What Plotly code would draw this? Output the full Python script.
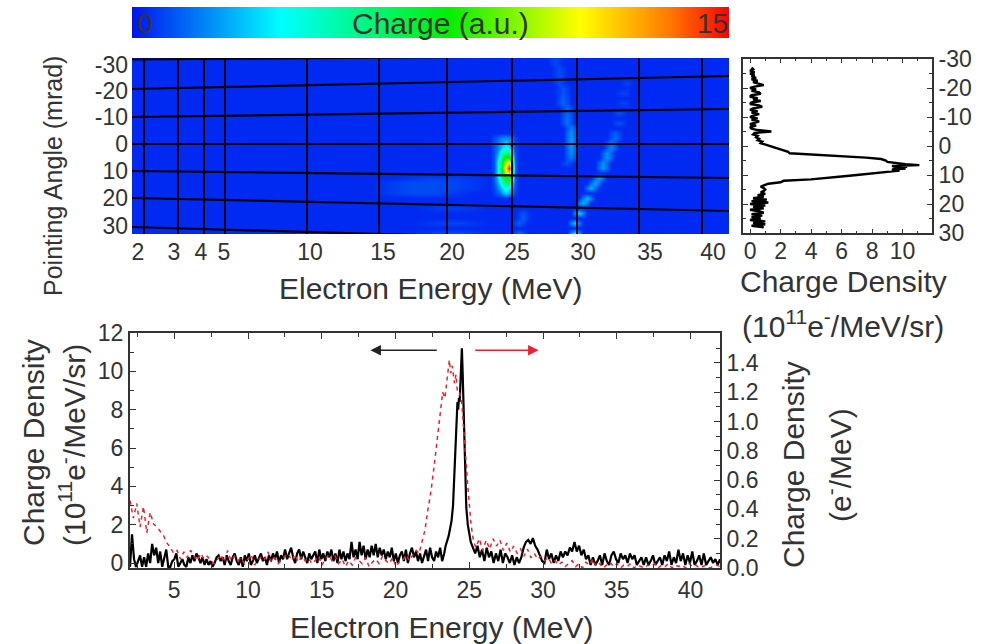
import bisect
import numpy as np
import plotly.graph_objects as go

W, H = 990, 644

# ---------- colour bar ----------
bar_values = list(range(0, 16))
CS = [[0, "#0014f0"], [0.25, "#00ffff"], [0.53, "#00f000"], [0.75, "#ffff00"], [0.9, "#ff7a00"], [1, "#ff0000"]]

# ---------- detector image (detector coordinates, energy axis is nonlinear) ----------
grid_energy_pos = [12, 46, 72, 93, 175, 247, 315, 380, 445, 507, 570]
energy_label_pos = [6, 42, 69, 92, 178, 251, 320, 385, 451, 518, 581]
energy_labels = ["2", "3", "4", "5", "10", "15", "20", "25", "30", "35", "40"]
angle_label_pos = [7, 33, 59, 86, 113, 140, 168]
angle_labels = ["-30", "-20", "-10", "0", "10", "20", "30"]
grid_h_left = [1.5, 31, 59, 86, 113, 140, 169]
grid_h_right = [-3, 18, 51, 86, 120, 153, 186]

img_cols = [0, 60, 120, 180, 240, 260, 280, 300, 320, 340, 358, 362, 365, 368, 371, 374, 377, 380, 383,
            387, 391, 395, 399, 403, 407, 411, 415, 419, 423, 427, 431, 435, 439, 443, 447, 451, 455, 459,
            463, 467, 471, 475, 479, 483, 487, 491, 495, 499, 503, 510, 560, 597]
img_rows = list(range(0, 185, 5))
background_charge = 0.35

peak_cols = [362, 365, 368, 371, 374, 377, 380, 383]
peak_rows = [80, 85, 90, 95, 100, 105, 110, 115, 120, 125, 130, 135]
peak_charge = [
    [0.9, 1.2, 1.6, 2.0, 2.0, 1.8, 1.4, 0.7],
    [0.9, 1.5, 2.0, 2.5, 3.0, 2.4, 1.8, 0.7],
    [1.0, 1.5, 2.5, 3.5, 4.0, 3.4, 2.4, 0.8],
    [1.0, 2.0, 3.5, 5.5, 6.0, 5.5, 3.5, 0.9],
    [1.0, 2.4, 4.5, 7.5, 8.5, 8.5, 5.5, 1.0],
    [1.0, 3.0, 5.5, 8.5, 10.5, 12.0, 8.0, 1.0],
    [1.0, 3.0, 5.5, 9.0, 12.0, 15.0, 9.0, 1.0],
    [1.0, 3.0, 5.5, 8.5, 10.5, 12.0, 7.5, 1.0],
    [1.0, 2.5, 4.5, 6.5, 7.5, 7.5, 5.0, 1.0],
    [1.0, 2.0, 3.5, 5.5, 6.5, 5.5, 3.5, 1.0],
    [0.8, 1.5, 2.5, 3.5, 4.5, 3.5, 2.4, 0.8],
    [0.7, 1.0, 1.5, 2.5, 3.0, 2.5, 1.5, 0.7],
]

arc_x = [423, 423, 427, 427, 427, 427, 431, 431, 431, 431, 435, 435, 435, 435, 439, 439, 439, 439, 439, 439, 439, 435,
         495, 491, 491, 487, 487, 483, 483, 479, 479, 475, 475, 471, 471, 467, 463, 459, 455, 451, 447, 443, 443,
         391, 391, 387, 387,
         264, 280, 300, 264, 280, 300, 320, 320, 320, 264, 280, 300, 320, 320, 300, 320]
arc_y = [0, 5, 10, 15, 20, 25, 30, 35, 40, 45, 50, 55, 60, 65, 70, 75, 80, 85, 90, 95, 100, 105,
         25, 35, 45, 55, 65, 75, 80, 85, 90, 95, 100, 105, 110, 120, 125, 130, 140, 145, 155, 165, 175,
         155, 160, 165, 175,
         125, 125, 125, 135, 135, 135, 120, 165, 175, 130, 130, 130, 125, 130, 120, 150]
arc_charge = [0.8, 0.8, 0.8, 0.9, 0.8, 0.9, 1.0, 1.0, 1.2, 1.3, 1.3, 1.3, 1.5, 1.5, 1.7, 2.0, 2.1, 2.1, 2.1, 1.9, 1.5, 1.0,
              0.7, 0.8, 0.8, 0.9, 1.0, 1.2, 1.4, 1.6, 1.8, 2.0, 2.0, 2.0, 2.2, 2.3, 2.3, 2.5, 2.7, 2.7, 3.1, 2.9, 3.3,
              1.0, 1.1, 1.2, 1.4,
              0.7, 0.9, 0.9, 0.7, 0.9, 0.9, 0.7, 0.8, 0.9, 0.8, 0.9, 0.9, 0.8, 0.8, 0.7, 0.7]

# ---------- side profile ----------
side_angle = [-27, -26.5, -26, -25.5, -25, -24.5, -24, -23.5, -23, -22.5, -22, -21.5, -21, -20.5, -20, -19.5, -19,
              -18.5, -18, -17.5, -17, -16.5, -16, -15.5, -15, -14.5, -14, -13.5, -13, -12.5, -12, -11.5, -11, -10.5,
              -10, -9.5, -9, -8.5, -8, -7.5, -7, -6.5, -6, -5.5, -5, -4.5, -4, -3.5, -3, -2.5, -2, -1.5, -1, -0.5,
              0, 0.5, 1, 1.5, 2, 2.5, 3, 3.5, 4, 4.5, 5, 5.5, 6, 6.3, 6.6, 6.9, 7.2, 7.5, 7.8, 8.1, 8.5, 9, 9.5, 10,
              10.5, 11, 11.5, 12, 12.5, 13, 13.5, 14, 14.5, 15, 15.5, 16, 16.5, 17, 17.5, 18, 18.5, 19, 19.5, 20,
              20.5, 21, 21.5, 22, 22.5, 23, 23.5, 24, 24.5, 25, 25.5, 26, 26.5, 27, 27.5, 28]
side_density = [0.1, 0.2, 0.0, 0.3, 0.0, 0.3, 0.1, 0.4, 0.1, 0.5, 0.2, 0.6, 0.9, 0.3, 0.0, 0.4, 0.1, 0.6, 0.7, 0.1,
                0.0, 0.5, 0.2, 0.7, 0.1, 0.0, 0.6, 0.8, 0.2, 0.0, 0.5, 0.1, 0.6, 0.2, 0.0, 0.5, 0.1, 0.6, 0.2, 0.0,
                0.4, 0.0, 0.1, 0.5, 1.4, 0.3, 0.2, 0.5, 0.4, 0.6, 0.5, 0.8, 0.7, 1.0, 1.2, 1.6, 1.9, 2.2, 2.5, 2.6,
                4.5, 6.2, 7.6, 8.6, 8.9, 9.0, 9.8, 10.2, 11.1, 9.3, 10.3, 9.4, 10.2, 9.3, 9.8, 9.0, 8.0, 7.0, 6.0,
                5.0, 4.0, 2.2, 2.0, 1.2, 1.0, 0.7, 0.9, 1.0, 0.9, 0.7, 1.0, 0.5, 0.9, 0.2, 1.1, 0.1, 1.2, 0.0, 1.0,
                0.2, 0.9, 0.0, 0.6, 0.9, 0.1, 0.8, 0.1, 0.7, 0.0, 1.0, 0.2, 1.0, 0.1, 0.9, 0.3]
side_angle = side_angle[:len(side_density)]

# ---------- bottom spectrum ----------
black_low = [-0.2, 1.5, 0.2, -0.2, 0.1, 0.4, -0.2, 0.3, -0.2, 0.5, 0.0, 1.0, 0.4, 0.8, 0.0, 0.6, -0.2, 0.3, 0.7, -0.2,
             -0.2, 0.1, 0.2, 0.5, -0.2, 0.0, 0.2, -0.1, -0.2, 0.3, 0.0, 0.4, 0.1, 0.5, 0.3, 0.0, 0.3, -0.1, 0.2, -0.1,
             0.1, -0.2, 0.0, 0.3, 0.4, 0.1, 0.3, -0.1, 0.4, 0.1, -0.1, 0.3, 0.5, 0.1, -0.1, 0.3, -0.2, 0.4, 0.1, 0.5,
             -0.1, 0.1, 0.4, 0.0, 0.3, 0.5, 0.1, 0.3, -0.1, 0.4, 0.1, 0.5, 0.2, 0.6, 0.0, 0.4, 0.2, 0.7, 0.2, 0.5,
             0.8, 0.3, 0.0, 0.5, 0.7, 0.2, 0.6, 0.3, 0.0, 0.5, 0.2, 0.4, 0.6, 0.0, 0.7, 0.2, 0.5, 0.1, 0.6, 0.3,
             0.7, 0.1, 0.5, 0.0, 0.7, 0.2, 0.6, 0.1, 0.5, 0.2, 1.1, 0.3, 0.7, 0.2, 1.1, 0.4, 0.9, 0.2, 0.7, 0.3,
             0.9, 0.4, 1.0, 0.3, 0.8, 0.4, 0.7, 0.2, 0.6, 0.3, 0.8, 0.1, 0.5, 0.0, 0.4, 0.6, 0.1, 0.7, 0.0, 0.5,
             0.8, 0.3, 0.6, 0.1, 0.5, 0.0, 0.4, 0.7, 0.1, 0.8, 0.3, 0.1, 0.6, 0.3, 0.8, 0.1, 0.5]
black_peak_x = [23.4, 23.6, 23.8, 23.9, 24.0, 24.1, 24.15, 24.2, 24.25, 24.3, 24.35, 24.4, 24.45, 24.5, 24.55, 24.6,
                24.65, 24.7, 24.75, 24.8, 24.9, 25.0, 25.1, 25.25]
black_peak = [0.9, 1.4, 2.2, 3.0, 4.6, 6.2, 7.5, 8.4, 8.0, 8.6, 8.4, 9.4, 10.6, 11.2, 10.0, 8.6, 7.0, 5.4, 4.0, 2.9,
              2.0, 1.4, 1.1, 0.8]
black_high = [0.5, 0.9, 0.3, 0.7, 0.1, 0.8, 0.3, 0.6, 0.0, 0.5, 0.1, 0.7, 0.0, 0.5, 0.3, 0.0, 0.4, -0.1, 0.3, 0.0,
              0.3, 0.8, 1.1, 1.2, 1.0, 1.3, 0.9, 0.7, 0.4, 0.1, 0.0, 0.7, 0.2, 0.5, 0.0, 0.4, 0.1, 0.6,
              0.3, 0.6, 0.4, 0.8, 0.6, 1.1, 0.6, 0.9, 0.4, 0.7, 0.2, 0.4, -0.1, 0.3, -0.1, 0.1,
              0.4, -0.1, 0.5, 0.1, -0.1, 0.4, 0.6, 0.2, 0.0, 0.5, 0.2, 0.4, 0.0, 0.5, 0.2, 0.4, -0.1, 0.1, 0.3, -0.1,
              0.3, -0.1, 0.1, 0.4, -0.1, 0.1, 0.3, -0.1, 0.4, 0.1, 0.6, -0.1, 0.3, 0.0, 0.7, 0.1, 0.5, -0.1, 0.4, 0.0,
              0.6, -0.1, 0.1, 0.4, -0.1, 0.5, -0.1, 0.1, 0.3, 0.0, 0.2, -0.1, 0.2]

red_low = [0.46, 0.34, 0.44, 0.28, 0.42, 0.24, 0.38, 0.30, 0.28, 0.25, 0.22, 0.17, 0.14, 0.10, 0.12, 0.06,
           0.11, 0.07, 0.12, 0.08, 0.05, 0.10, 0.06, 0.08, 0.05, 0.03, 0.06, 0.09, 0.04, 0.12, 0.05, 0.08,
           0.05, 0.07, 0.03, 0.06, 0.09, 0.02, 0.05, 0.08, 0.06, 0.11, 0.04, 0.07, 0.03, 0.06, 0.08, 0.10, 0.05, 0.09,
           0.04, 0.08, 0.05, 0.07, 0.03, 0.05, 0.08, 0.02, 0.06, 0.09, 0.05, 0.08, 0.03, 0.06, 0.01, 0.05, 0.02, 0.07,
           0.05, 0.03, 0.07, 0.01, 0.04, 0.06, 0.03, 0.08, 0.05, 0.03, 0.07, 0.01, 0.04, 0.05, 0.09, 0.05, 0.09, 0.12]
red_peak_x = [21.6, 21.8, 22.0, 22.2, 22.4, 22.6, 22.8, 23.0, 23.2, 23.35, 23.5, 23.65, 23.75, 23.85, 24.0, 24.1, 24.2,
              24.35, 24.5, 24.6, 24.7, 24.8, 24.9, 25.0, 25.1, 25.2, 25.3]
red_peak = [0.10, 0.18, 0.26, 0.40, 0.52, 0.68, 0.86, 1.04, 1.20, 1.16, 1.30, 1.42, 1.33, 1.38, 1.26, 1.32, 1.20,
            1.20, 1.12, 0.96, 0.82, 0.70, 0.56, 0.42, 0.32, 0.24, 0.18]
red_high = [0.14, 0.20, 0.12, 0.19, 0.13, 0.20, 0.15, 0.19, 0.12, 0.17, 0.11, 0.15, 0.10, 0.13, 0.08, 0.13, 0.07, 0.10,
            0.06, 0.08, 0.05, 0.07, 0.03, 0.05, 0.02, 0.04, 0.01, 0.03, 0.05, 0.01, 0.03, 0.00, 0.04, 0.02, 0.06, 0.01,
            0.03, 0.00, 0.02, 0.04, 0.01, 0.03, 0.00, 0.02, 0.01, 0.03, 0.00, 0.02, 0.01, 0.00, 0.02, 0.01, 0.03, 0.00,
            0.02, 0.01, 0.03, 0.00, 0.02, 0.01, 0.02, 0.00, 0.03, 0.01, 0.02, 0.00, 0.01, 0.02, 0.00, 0.01, 0.02, 0.01]

# ---------- assemble ----------
black_x = np.r_[np.linspace(2, 23.3, len(black_low)), black_peak_x, np.linspace(25.4, 42, len(black_high))]
black_y = black_low + black_peak + black_high
red_x = np.r_[np.linspace(2, 21.4, len(red_low)), red_peak_x, np.linspace(25.45, 42, len(red_high))]
red_y = red_low + red_peak + red_high

z = [[background_charge for _ in img_cols] for _ in img_rows]
for xv, yv, c in zip(arc_x, arc_y, arc_charge):
    r, k = bisect.bisect_left(img_rows, yv), bisect.bisect_left(img_cols, xv)
    z[r][k] = c
    for n in (k - 1, k + 1):
        z[r][n] = max(z[r][n], background_charge + 0.55 * (c - background_charge))
for r, row in zip(peak_rows, peak_charge):
    for col, c in zip(peak_cols, row):
        z[img_rows.index(r)][img_cols.index(col)] = c


def dx(a, b):
    return [a / W, b / W]


def dy(top, bottom):
    return [1 - bottom / H, 1 - top / H]


INK = "#333333"
FONT = "Liberation Sans"
TICK = dict(family=FONT, size=23, color=INK)
TITLE = 30

fig = go.Figure()
fig.add_trace(go.Heatmap(x=bar_values, y=[0, 1], z=[bar_values, bar_values], colorscale=CS, zmin=0, zmax=15,
                         showscale=False, zsmooth="best", xaxis="x5", yaxis="y5"))
fig.add_trace(go.Heatmap(x=img_cols, y=img_rows, z=z, colorscale=CS, zmin=0, zmax=15, showscale=False,
                         zsmooth="best", xaxis="x", yaxis="y"))
for gx in grid_energy_pos:
    fig.add_trace(go.Scatter(x=[gx, gx], y=[0, 176], mode="lines", line=dict(color="#050510", width=2),
                             xaxis="x", yaxis="y"))
for a, b in zip(grid_h_left, grid_h_right):
    fig.add_trace(go.Scatter(x=[0, 597], y=[a, b], mode="lines", line=dict(color="#050510", width=2.2),
                             xaxis="x", yaxis="y"))
fig.add_trace(go.Scatter(x=side_density, y=side_angle, mode="lines", line=dict(color="black", width=2.4),
                         xaxis="x2", yaxis="y2"))
fig.add_trace(go.Scatter(x=red_x, y=red_y, mode="lines", line=dict(color="#ee2030", width=1.5, dash="4px,4px"),
                         xaxis="x3", yaxis="y4"))
fig.add_trace(go.Scatter(x=black_x, y=black_y, mode="lines", line=dict(color="black", width=2.2),
                         xaxis="x3", yaxis="y3"))

frame = dict(showline=True, linecolor="#333333", linewidth=2, showgrid=False, zeroline=False,
             ticks="inside", tickcolor="#333333", tickfont=TICK)


def text(x, y, s, size=TITLE, angle=0):
    return dict(xref="paper", yref="paper", x=x / W, y=1 - y / H, text=s, showarrow=False, textangle=angle,
                font=dict(family=FONT, size=size, color=INK), xanchor="center", yanchor="middle")


def arrow(x0, x1, y, color):
    return dict(xref="x3", yref="y3", axref="x3", ayref="y3", x=x1, y=y, ax=x0, ay=y, text="", showarrow=True,
                arrowhead=2, arrowsize=1.4, arrowwidth=1.5, arrowcolor=color)


unit = "(10<sup>11</sup>e<sup>-</sup>/MeV/sr)"
fig.update_layout(
    width=W, height=H, margin=dict(l=0, r=0, t=0, b=0), paper_bgcolor="white", plot_bgcolor="white",
    showlegend=False, hovermode=False,
    xaxis=dict(domain=dx(132, 729), range=[0, 597], showgrid=False, zeroline=False, showline=False,
               tickmode="array", tickvals=energy_label_pos, ticktext=energy_labels, ticks="", tickfont=TICK,
               ticklabelstandoff=2, anchor="y"),
    yaxis=dict(domain=dy(58, 234), range=[176, 0], showgrid=False, zeroline=False, showline=False,
               tickmode="array", tickvals=angle_label_pos, ticktext=angle_labels, ticks="", tickfont=TICK,
               ticklabelstandoff=3, anchor="x"),
    xaxis2=dict(domain=dx(743, 932), range=[-0.46, 11.93], tickmode="array", tickvals=[0, 2, 4, 6, 8, 10],
                ticktext=["0", "2", "4", "6", "8", "10"], ticklen=4, mirror="ticks", anchor="y2",
                ticklabelstandoff=-4,
                minor=dict(ticks="inside", ticklen=2, dtick=1, tickcolor="#333333"), **frame),
    yaxis2=dict(domain=dy(59, 233), range=[30, -30], tickmode="array",
                tickvals=[-30, -20, -10, 0, 10, 20, 30], ticktext=angle_labels, side="right", ticklen=5,
                mirror="ticks", anchor="x2", minor=dict(ticks="inside", ticklen=3, dtick=5, tickcolor="#333333"),
                **frame),
    xaxis3=dict(domain=dx(130, 720), range=[2, 42], tickmode="array", tickvals=[5, 10, 15, 20, 25, 30, 35, 40],
                ticktext=["5", "10", "15", "20", "25", "30", "35", "40"], ticklen=6, mirror="ticks", anchor="y3",
                minor=dict(ticks="inside", ticklen=4, dtick=2.5, tick0=0, tickcolor="#333333"), **frame),
    yaxis3=dict(domain=dy(333, 568), range=[-0.26, 12], tickmode="array", tickvals=[0, 2, 4, 6, 8, 10, 12],
                ticktext=["0", "2", "4", "6", "8", "10", "12"], ticklen=6, anchor="x3",
                minor=dict(ticks="inside", ticklen=4, dtick=1, tickcolor="#333333"), **frame),
    yaxis4=dict(domain=dy(333, 568), range=[0, 1.604], overlaying="y3", side="right", tickmode="array",
                tickvals=[0, 0.2, 0.4, 0.6, 0.8, 1.0, 1.2, 1.4],
                ticktext=["0.0", "0.2", "0.4", "0.6", "0.8", "1.0", "1.2", "1.4"], ticklen=6, anchor="x3",
                minor=dict(ticks="inside", ticklen=4, dtick=0.1, tickcolor="#333333"), **frame),
    xaxis5=dict(domain=dx(132, 729), range=[0, 15], visible=False, anchor="y5"),
    yaxis5=dict(domain=dy(7, 38), range=[0, 1], visible=False, anchor="x5"),
    annotations=[
        text(145, 24, "0", 28), text(440, 24, "Charge (a.u.)", 30), text(712, 24, "15", 28),
        text(430, 288, "Electron Energy (MeV)"), text(53, 176, "Pointing Angle (mrad)", size=25, angle=-90),
        text(843, 281, "Charge Density"), text(843, 324, unit),
        text(441, 627, "Electron Energy (MeV)"),
        text(33, 443, "Charge Density", angle=-90), text(72, 445, unit, angle=-90),
        text(793, 465, "Charge Density", angle=-90), text(838, 465, "(e<sup>-</sup>/MeV)", angle=-90),
        arrow(22.9, 18.3, 11.1, "#222222"), arrow(25.3, 29.7, 11.1, "#ee2030"),
    ],
)
fig.update_xaxes(automargin=False)
fig.update_yaxes(automargin=False)
fig.write_html("out.html", post_script="document.body.style.margin='0';",
               config=dict(displayModeBar=False))
